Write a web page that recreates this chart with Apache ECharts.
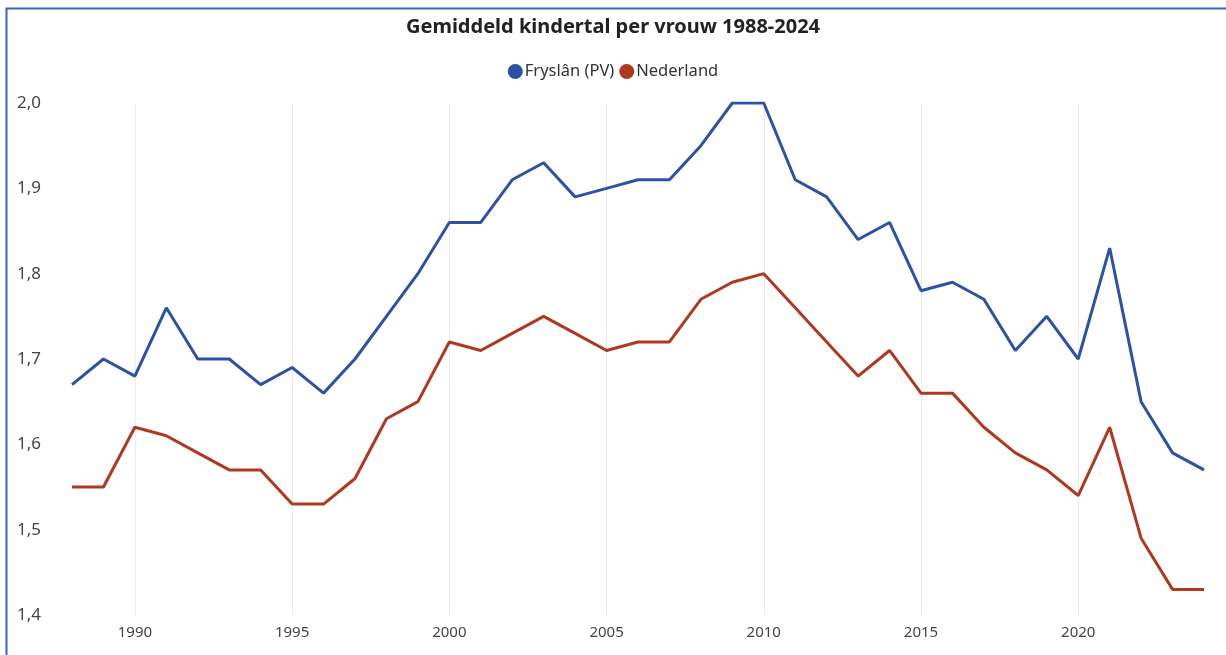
<!DOCTYPE html>
<html>
<head>
<meta charset="utf-8">
<script src="https://cdn.jsdelivr.net/npm/echarts@6/dist/echarts.min.js"></script>
<style>html,body{margin:0;padding:0;background:#fff}#c{width:1226px;height:655px}</style>
</head>
<body>
<div id="c"></div>
<script>
var years = [];
for (var y = 1988; y <= 2024; y++) years.push(String(y));
var fryslan = [1.67,1.70,1.68,1.76,1.70,1.70,1.67,1.69,1.66,1.70,1.75,1.80,1.86,1.86,1.91,1.93,1.89,1.90,1.91,1.91,1.95,2.00,2.00,1.91,1.89,1.84,1.86,1.78,1.79,1.77,1.71,1.75,1.70,1.83,1.65,1.59,1.57];
var nederland = [1.55,1.55,1.62,1.61,1.59,1.57,1.57,1.53,1.53,1.56,1.63,1.65,1.72,1.71,1.73,1.75,1.73,1.71,1.72,1.72,1.77,1.79,1.80,1.76,1.72,1.68,1.71,1.66,1.66,1.62,1.59,1.57,1.54,1.62,1.49,1.43,1.43];
var seriesNames = ['Fryslân (PV)', 'Nederland'];
var titleText = 'Gemiddeld kindertal per vrouw 1988-2024';

var chart = echarts.init(document.getElementById('c'), null, {renderer: 'canvas'});
var font = '"Noto Sans", sans-serif';
function showYear(i, v) { return Number(v) % 5 === 0; }
chart.setOption({
  animation: false,
  color: ['#2C52A4', '#AE391E'],
  textStyle: {fontFamily: font},
  title: {
    text: titleText, left: 'center', top: 12,
    textStyle: {fontSize: 20, fontWeight: 'bold', color: '#222', fontFamily: font}
  },
  legend: {
    top: 58, left: 'center', itemWidth: 15, itemHeight: 15, itemGap: 5,
    icon: 'circle',
    textStyle: {fontSize: 16.5, color: '#333', fontFamily: font, padding: [0, 0, 0, -3]},
    data: seriesNames
  },
  graphic: [{
    type: 'polyline', silent: true,
    shape: {points: [[6.5, 660], [6.5, 8.5], [1230, 8.5]]},
    style: {stroke: '#3A62B8', lineWidth: 2, fill: null}
  }],
  grid: {left: 72, right: 22, top: 103, bottom: 40, containLabel: false},
  xAxis: {
    type: 'category', data: years, boundaryGap: false,
    axisLine: {show: false}, axisTick: {show: false},
    axisLabel: {interval: showYear, fontSize: 15, color: '#444', margin: 10, fontFamily: font},
    splitLine: {show: true, interval: showYear, lineStyle: {color: '#ebebeb', width: 1}}
  },
  yAxis: {
    type: 'value', min: 1.4, max: 2.0, interval: 0.1,
    axisLine: {show: false}, axisTick: {show: false}, splitLine: {show: false},
    axisLabel: {fontSize: 17, color: '#444', margin: 55, align: 'left', fontFamily: font,
      formatter: function (v) { return v.toFixed(1).replace('.', ','); }}
  },
  series: [
    {name: seriesNames[0], type: 'line', data: fryslan, symbol: 'none', lineStyle: {width: 3}},
    {name: seriesNames[1], type: 'line', data: nederland, symbol: 'none', lineStyle: {width: 3}}
  ]
});
</script>
</body>
</html>
